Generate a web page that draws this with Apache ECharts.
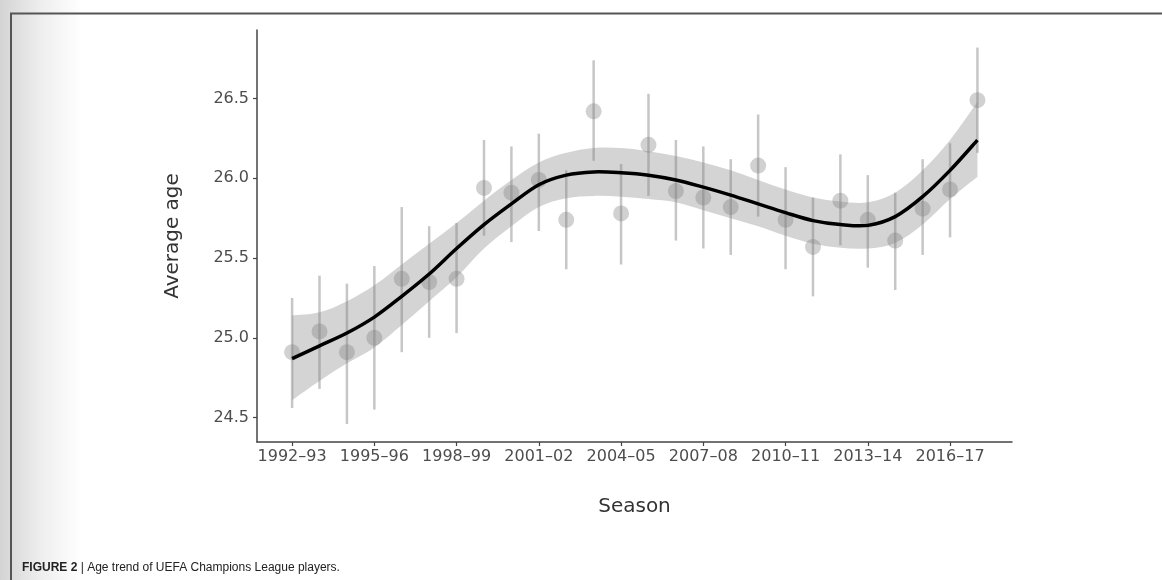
<!DOCTYPE html>
<html><head><meta charset="utf-8">
<script src="https://cdn.jsdelivr.net/npm/echarts@6/dist/echarts.min.js"></script>
<style>html,body{margin:0;padding:0;background:#fff}#c{width:1162px;height:580px}</style>
</head><body><div id="c"></div>
<script>
const seasons = ["1992–93","1993–94","1994–95","1995–96","1996–97","1997–98","1998–99","1999–00","2000–01","2001–02","2002–03","2003–04","2004–05","2005–06","2006–07","2007–08","2008–09","2009–10","2010–11","2011–12","2012–13","2013–14","2014–15","2015–16","2016–17","2017–18"];
const meanAge = [24.91,25.04,24.91,25.00,25.37,25.35,25.37,25.94,25.91,25.99,25.74,26.42,25.78,26.21,25.92,25.88,25.82,26.08,25.74,25.57,25.86,25.74,25.61,25.81,25.93,26.49];
const ciLow  = [24.56,24.68,24.46,24.55,24.91,25.00,25.03,25.64,25.60,25.67,25.43,26.11,25.46,25.89,25.61,25.56,25.52,25.76,25.43,25.26,25.58,25.44,25.30,25.52,25.63,26.16];
const ciHigh = [25.25,25.39,25.34,25.45,25.82,25.70,25.72,26.24,26.20,26.28,26.05,26.74,26.09,26.53,26.24,26.20,26.12,26.40,26.07,25.88,26.15,26.02,25.91,26.12,26.22,26.82];
const fitLine = [24.87,24.95,25.03,25.13,25.26,25.40,25.56,25.71,25.84,25.96,26.02,26.04,26.035,26.02,25.99,25.945,25.895,25.84,25.785,25.735,25.71,25.705,25.76,25.885,26.05,26.24];
const fitHigh = [25.14,25.16,25.23,25.33,25.46,25.59,25.72,25.86,25.99,26.10,26.16,26.19,26.19,26.17,26.14,26.10,26.05,25.99,25.93,25.88,25.855,25.85,25.91,26.05,26.24,26.48];
const fitLow  = [24.61,24.73,24.84,24.94,25.08,25.23,25.38,25.56,25.70,25.82,25.875,25.89,25.885,25.87,25.85,25.80,25.75,25.70,25.64,25.59,25.565,25.56,25.595,25.71,25.87,26.01];
const xTickIdx = [0,3,6,9,12,15,18,21,24];
const yTicks = [24.5,25.0,25.5,26.0,26.5];

const idx = seasons.map((s,i)=>i);
const chart = echarts.init(document.getElementById('c'), null, {renderer:'canvas'});
const labelFont = 'DejaVu Sans';
const pointColor = 'rgba(128,128,128,0.45)';

// Catmull-Rom -> cubic bezier path through pixel points
function splinePath(pts, start){
  let d = start ? 'M' + pts[0][0] + ' ' + pts[0][1] : 'L' + pts[0][0] + ' ' + pts[0][1];
  for (let i = 0; i < pts.length - 1; i++) {
    const p0 = pts[Math.max(i-1,0)], p1 = pts[i], p2 = pts[i+1], p3 = pts[Math.min(i+2, pts.length-1)];
    const c1 = [p1[0] + (p2[0]-p0[0])/6, p1[1] + (p2[1]-p0[1])/6];
    const c2 = [p2[0] - (p3[0]-p1[0])/6, p2[1] - (p3[1]-p1[1])/6];
    d += ' C' + c1[0] + ' ' + c1[1] + ' ' + c2[0] + ' ' + c2[1] + ' ' + p2[0] + ' ' + p2[1];
  }
  return d;
}

chart.setOption({
  animation:false,
  backgroundColor:'#fff',
  grid:{left:257, right:150, top:30, bottom:138, containLabel:false},
  xAxis:{
    type:'value', min:-1.28, max:26.26, z:10,
    name:'Season', nameLocation:'middle', nameGap:55,
    nameTextStyle:{fontFamily:labelFont, fontSize:20, color:'#333'},
    axisLine:{show:true, onZero:false, lineStyle:{color:'#444', width:1.5}},
    axisTick:{show:true, length:4, lineStyle:{color:'#444', width:1.2}, customValues:xTickIdx},
    axisLabel:{customValues:xTickIdx, formatter:v=>seasons[Math.round(v)]||'', fontFamily:labelFont, fontSize:16, color:'#4d4d4d', margin:7},
    splitLine:{show:false}
  },
  yAxis:{
    type:'value', min:24.347, max:26.93, z:10,
    name:'Average age', nameLocation:'middle', nameGap:74, nameRotate:90,
    nameTextStyle:{fontFamily:labelFont, fontSize:20, color:'#333'},
    axisLine:{show:true, onZero:false, lineStyle:{color:'#444', width:1.5}},
    axisTick:{show:true, length:4, lineStyle:{color:'#444', width:1.2}, customValues:yTicks},
    axisLabel:{customValues:yTicks, formatter:v=>v.toFixed(1), fontFamily:labelFont, fontSize:16, color:'#4d4d4d', margin:8},
    splitLine:{show:false}
  },
  graphic:[
    {type:'rect', z:-10, silent:true, shape:{x:0,y:0,width:82,height:580},
     style:{fill:new echarts.graphic.LinearGradient(0,0,1,0,[{offset:0,color:'#d4d4d4'},{offset:0.5,color:'#eeeeee'},{offset:1,color:'#ffffff'}])}},
    {type:'line', z:100, silent:true, shape:{x1:10,y1:13.5,x2:1162,y2:13.5}, style:{stroke:'#555', lineWidth:2}},
    {type:'line', z:100, silent:true, shape:{x1:11,y1:13,x2:11,y2:580}, style:{stroke:'#555', lineWidth:2}},
    {type:'text', z:100, left:22, top:562, silent:true,
     style:{text:'{b|FIGURE 2} | Age trend of UEFA Champions League players.', fontFamily:'Liberation Sans', fontSize:12, fill:'#222',
       rich:{b:{fontWeight:'bold', fontFamily:'Liberation Sans', fontSize:12, fill:'#222'}}}}
  ],
  series:[
    {type:'custom', name:'ribbon', z:2, silent:true, clip:true,
     data: idx.map(i=>[i, fitLow[i], fitHigh[i]]),
     encode:{x:0, y:[1,2]},
     renderItem:(params, api)=>{
       if (params.dataIndex !== 0) return null;
       const up = idx.map(i=>api.coord([i, fitHigh[i]]));
       const lo = idx.map(i=>api.coord([i, fitLow[i]])).reverse();
       const d = splinePath(up, true) + ' ' + splinePath(lo, false) + ' Z';
       return {type:'path', shape:{pathData:d}, style:{fill:'rgba(153,153,153,0.42)', stroke:null}};
     }},
    {type:'custom', name:'errorbars', z:3, silent:true,
     data: idx.map(i=>[i, ciLow[i], ciHigh[i]]),
     encode:{x:0, y:[1,2]},
     renderItem:(params, api)=>{
       const a = api.coord([api.value(0), api.value(1)]);
       const b = api.coord([api.value(0), api.value(2)]);
       return {type:'line', shape:{x1:a[0],y1:a[1],x2:b[0],y2:b[1]}, style:{stroke:pointColor, lineWidth:2.5}};
     }},
    {type:'scatter', name:'mean', z:3, silent:true, symbol:'circle', symbolSize:16,
     data: idx.map(i=>[i, meanAge[i]]),
     itemStyle:{color:pointColor}},
    {type:'custom', name:'fit', z:5, silent:true,
     data: idx.map(i=>[i, fitLine[i]]),
     encode:{x:0, y:1},
     renderItem:(params, api)=>{
       if (params.dataIndex !== 0) return null;
       const pts = idx.map(i=>api.coord([i, fitLine[i]]));
       return {type:'path', shape:{pathData:splinePath(pts, true)}, style:{fill:null, stroke:'#000', lineWidth:3.5, lineJoin:'round', lineCap:'butt'}};
     }}
  ]
});
</script></body></html>
